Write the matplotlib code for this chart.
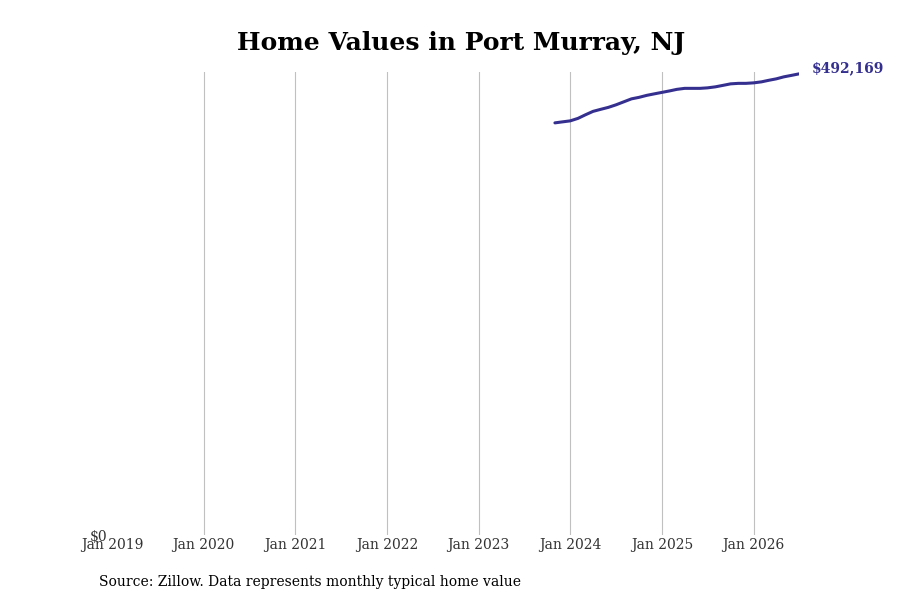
import matplotlib
matplotlib.use("Agg")
import matplotlib.pyplot as plt
import matplotlib.dates as mdates
import pandas as pd
import numpy as np

plt.rcParams['font.family'] = ['DejaVu Serif']

dates = pd.date_range("2023-11-01", "2026-07-01", freq="MS")
values = [439851, 440919, 441986, 444655, 448392, 452129, 454264, 456399, 459068,
          462271, 465474, 467075, 469210, 470812, 472413, 474014, 475616, 476683,
          476683, 476683, 477217, 478285, 479886, 481488, 482021, 482021, 482555,
          483623, 485224, 486826, 488961, 490562, 492169]
tick_years = list(range(2019, 2027))
tick_labels = [f"Jan {y}" for y in tick_years]
line_color = "#35308f"

fig = plt.figure(figsize=(9, 6), dpi=100)
ax = fig.add_axes([0.1244, 0.1083, 0.7635, 0.7717])
ax.plot(dates, values, color=line_color, linewidth=2.2, solid_capstyle='round')
ax.set_xlim(pd.Timestamp("2019-01-01"), dates[-1])
ax.set_ylim(0, max(values) * 1.004)
ticks = [pd.Timestamp(f"{y}-01-01") for y in tick_years]
ax.set_xticks(ticks)
ax.set_xticklabels(tick_labels, fontsize=10, color="#333333")
ax.set_yticks([0])
ax.set_yticklabels(["$0"], fontsize=10, color="#333333")
ax.tick_params(axis='both', length=0)
ax.tick_params(axis='x', pad=2)
ax.tick_params(axis='y', pad=3)
for s in ax.spines.values():
    s.set_visible(False)
for t in ticks[1:]:
    ax.axvline(t, color="#c0c0c0", linewidth=0.8, zorder=0)
ax.annotate(f"${values[-1]:,}", xy=(dates[-1], values[-1]), xytext=(9, 4),
            textcoords="offset points", color=line_color, fontsize=10,
            fontweight="bold", va="center", ha="left", annotation_clip=False)
fig.text(0.512, 0.928, "Home Values in Port Murray, NJ", ha="center", va="center",
         fontsize=18, fontweight="bold", color="black")
fig.text(0.11, 0.03, "Source: Zillow. Data represents monthly typical home value",
         ha="left", va="center", fontsize=10, color="black")
fig.savefig("out.png", dpi=100)
